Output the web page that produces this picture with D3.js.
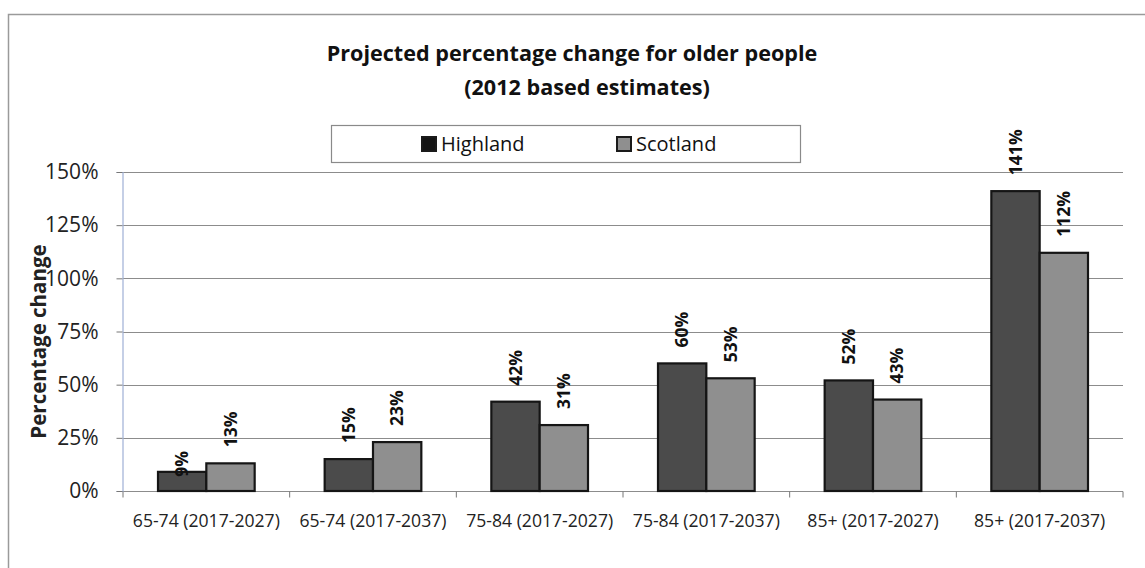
<!DOCTYPE html>
<html>
<head>
<meta charset="utf-8">
<script src="https://cdn.jsdelivr.net/npm/d3@7/dist/d3.min.js"></script>
<style>
  html, body { margin: 0; padding: 0; background: #fff; }
  svg { display: block; font-family: "Open Sans", "Noto Sans", sans-serif; }
</style>
</head>
<body>
<svg id="chart" width="1145" height="568"></svg>
<script>
// Chart data
const categories = [
  "65-74 (2017-2027)", "65-74 (2017-2037)", "75-84 (2017-2027)",
  "75-84 (2017-2037)", "85+ (2017-2027)", "85+ (2017-2037)"
];
const seriesNames = ["Highland", "Scotland"];
const highland = [9, 15, 42, 60, 52, 141];
const scotland = [13, 23, 31, 53, 43, 112];
const yTicks = [0, 25, 50, 75, 100, 125, 150];
const titleLines = ["Projected percentage change for older people", "(2012 based estimates)"];
const yAxisTitle = "Percentage change";

const seriesValues = [highland, scotland];
const rows = categories.map((c, i) => ({
  category: c,
  values: seriesNames.map((s, k) => ({ series: s, value: seriesValues[k][i], cat: c }))
}));

const svg = d3.select("#chart");
const W = 1145, H = 568;

const fills = { Highland: "#4b4b4b", Scotland: "#8f8f8f" };
const swatchFills = { Highland: "#141414", Scotland: "#8f8f8f" };

svg.append("rect").attr("width", W).attr("height", H).attr("fill", "#fff");

// Outer chart frame (runs past the right and bottom edges)
svg.append("rect")
  .attr("x", 8.5).attr("y", 14.5)
  .attr("width", 1160).attr("height", 580)
  .attr("fill", "none").attr("stroke", "#9a9a9a").attr("stroke-width", 1.5);

const plot = { left: 123, right: 1123, top: 172, bottom: 491 };

const x0 = d3.scaleBand().domain(categories).range([plot.left, plot.right]).padding(0);
const gap = x0.bandwidth() * 0.21;
const x1 = d3.scaleBand().domain(seriesNames).range([gap, x0.bandwidth() - gap]).padding(0);
const y = d3.scaleLinear().domain([0, 150]).range([plot.bottom, plot.top]);

// Gridlines
svg.append("g")
  .selectAll("line")
  .data(yTicks)
  .join("line")
  .attr("x1", plot.left).attr("x2", plot.right)
  .attr("y1", d => Math.round(y(d)) + 0.5).attr("y2", d => Math.round(y(d)) + 0.5)
  .attr("stroke", "#8c8c8c").attr("stroke-width", 1.2);

// Y axis
const yAxis = d3.axisLeft(y)
  .tickValues(yTicks)
  .tickFormat(d => d + "%")
  .tickSize(6)
  .tickPadding(18);
const gy = svg.append("g")
  .attr("transform", `translate(${plot.left - 0.5},0)`)
  .call(yAxis);
gy.select(".domain").attr("stroke", "#9fb0d6").attr("stroke-width", 1.2);
gy.selectAll(".tick line").attr("stroke", "#777");
gy.selectAll(".tick text")
  .attr("font-family", "'Open Sans', sans-serif")
  .attr("font-size", 21)
  .attr("fill", "#222");

// X axis with tick marks at the category boundaries
const gx = svg.append("g").attr("transform", `translate(0,${Math.round(y(0)) + 0.5})`);
gx.selectAll("line.bound")
  .data(categories.concat(["__end"]))
  .join("line")
  .attr("class", "bound")
  .attr("x1", (d, i) => plot.left + i * x0.step())
  .attr("x2", (d, i) => plot.left + i * x0.step())
  .attr("y1", 0).attr("y2", 6)
  .attr("stroke", "#777").attr("stroke-width", 1);
gx.selectAll("text")
  .data(categories)
  .join("text")
  .attr("x", d => x0(d) + x0.bandwidth() / 2)
  .attr("y", 35)
  .attr("text-anchor", "middle")
  .attr("font-size", 17.6)
  .attr("fill", "#222")
  .text(d => d);

// Bars
const groups = svg.append("g")
  .selectAll("g")
  .data(rows)
  .join("g")
  .attr("transform", d => `translate(${x0(d.category)},0)`);

groups.selectAll("rect")
  .data(d => d.values)
  .join("rect")
  .attr("x", d => x1(d.series))
  .attr("y", d => y(d.value))
  .attr("width", x1.bandwidth())
  .attr("height", d => y(0) - y(d.value))
  .attr("fill", d => fills[d.series])
  .attr("stroke", "#151515")
  .attr("stroke-width", 2.2);

// Value labels, rotated, above each bar
const labelGap = 16;
// the first Highland label sits lower, partly over its bar
const labelDrop = (d) => (d.cat === categories[0] && d.series === "Highland") ? -21 : 0;
groups.selectAll("text")
  .data(d => d.values)
  .join("text")
  .attr("transform", d => {
    const cx = x1(d.series) + x1.bandwidth() / 2;
    const cy = y(d.value) - labelGap - labelDrop(d);
    return `translate(${cx},${cy}) rotate(-90)`;
  })
  .attr("dy", "0.36em")
  .attr("text-anchor", "start")
  .attr("font-size", 17.5)
  .attr("font-weight", "bold")
  .attr("fill", "#111")
  .text(d => d.value + "%");

// Y axis title
svg.append("text")
  .attr("transform", `translate(39,${(plot.top + plot.bottom) / 2 + 10}) rotate(-90)`)
  .attr("text-anchor", "middle")
  .attr("dy", "0.36em")
  .attr("font-size", 20.5)
  .attr("font-weight", "bold")
  .attr("fill", "#222")
  .text(yAxisTitle);

// Title
const titleX = [572, 587];
const titleY = [61, 95];
svg.append("g")
  .selectAll("text")
  .data(titleLines)
  .join("text")
  .attr("x", (d, i) => titleX[i])
  .attr("y", (d, i) => titleY[i])
  .attr("text-anchor", "middle")
  .attr("font-size", 21.6)
  .attr("font-weight", "bold")
  .attr("fill", "#111")
  .text(d => d);

// Legend
const legend = svg.append("g");
legend.append("rect")
  .attr("x", 331.5).attr("y", 125.5)
  .attr("width", 469).attr("height", 37)
  .attr("fill", "#fff").attr("stroke", "#8a8a8a").attr("stroke-width", 1.2);
const legendX = { Highland: 421, Scotland: 616 };
const items = legend.selectAll("g.item")
  .data(seriesNames)
  .join("g")
  .attr("class", "item")
  .attr("transform", d => `translate(${legendX[d]},144)`);
items.append("rect")
  .attr("x", 1).attr("y", -7)
  .attr("width", 14).attr("height", 14)
  .attr("fill", d => swatchFills[d])
  .attr("stroke", "#1a1a1a").attr("stroke-width", 2);
items.append("text")
  .attr("x", 20).attr("y", 0)
  .attr("dy", "0.36em")
  .attr("font-size", 20)
  .attr("fill", "#111")
  .text(d => d);
</script>
</body>
</html>
